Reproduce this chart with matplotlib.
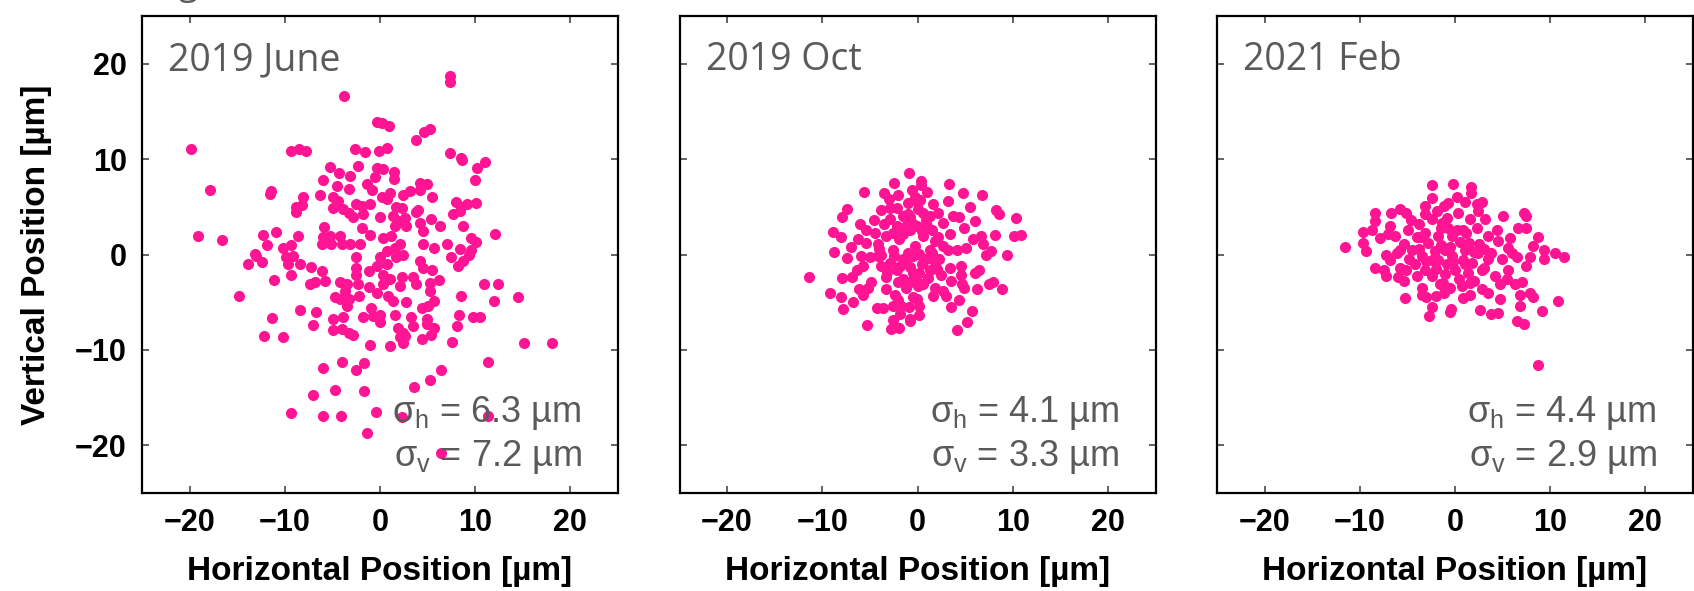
import matplotlib
matplotlib.use('Agg')
import matplotlib.pyplot as plt

# beam positions, in um
h_jun = [-3.8, -0.3, -19.9, -9.4, -8.5, -7.8, -2.6, -1.6, -5.3, -2.3, -4.3, -3.1, -6.0, -17.9, -11.4, -11.6,
         -4.5, -3.3, -6.3, -8.1, -8.8, -8.2, -8.8, -4.9, -4.9, -4.4, -3.9, -3.3, -2.8, -2.5, -1.9, -1.1,
         -1.8, -1.4, -0.8, -0.5, -0.3, -0.1, -5.9, -1.9, -1.1, -10.9, -12.3, -8.6, -19.1, -16.6, -11.9, -10.2,
         -9.3, -6.0, -5.3, -6.1, -5.1, -4.2, -4.0, -3.2, -2.1, -13.1,
         -13.9, -13.0, -12.4, -9.9, -9.1, -9.7, -8.4, -7.2, -9.3, -6.1, -7.4, -6.8, -5.8, -11.1, -14.8, -2.5,
         -2.5, -2.5, -2.3, -1.2, -1.2, -4.2, -3.5, -3.7, -4.7, -4.2, -3.3, -3.5, -2.2, -0.3, -0.3, -8.4,
         -6.7, -7.0, -11.3, -12.2, -10.2, -4.9, -4.9, -4.0, -3.3, -2.8, -3.9, -1.8, -0.9, -0.7, 0.0, -1.1,
         -6.0, -4.0, -1.7, -2.5, -7.0, -4.7, -1.7, -9.3, -6.0, -4.1, -0.4, -1.4,
         7.4, 7.4, 0.2, 0.95, 4.6, 5.2, 3.8, 0.7, 7.4, 8.5, 8.6, 11.0, 10.2, 10.0, 0.3, 1.5,
         1.5, 1.0, 0.2, 0.7, 2.4, 3.1, 4.2, 4.2, 4.9, 5.5, 1.7, 2.3, 3.8, 4.0, 0.0, 8.0,
         8.5, 9.1, 10.1, 7.7, 8.4, 1.4, 1.9, 2.6, 1.6, 2.7, 4.2, 4.5, 5.4, 6.3, 8.7, 12.1,
         9.6, 10.1, 7.0, 8.4, 9.6, 4.5, 5.7, 0.3, 1.2, 2.1, 1.6, 0.7,
         0.0, 0.7, 1.7, 2.4, 4.2, 4.5, 5.5, 7.5, 8.2, 8.7, 9.4, 0.3, 1.0, 2.3, 3.5, 3.8,
         5.2, 6.2, 0.3, 2.1, 5.2, 10.9, 12.4, 14.5, 8.5, 12.0, 0.85, 1.4, 2.7, 4.4, 5.0, 5.7,
         0.0, 1.6, 3.3, 4.9, 3.5, 5.7, 4.9, 8.3, 9.8, 10.5, 8.1, 1.9, 2.4, 2.1, 2.6, 1.0,
         2.4, 4.4, 5.4, 7.6, 15.1, 18.1, 11.3, 6.4, 5.2, 3.6, 2.3, 11.3, 6.4]
v_jun = [16.6, 13.9, 11.1, 10.9, 11.1, 10.9, 11.1, 10.7, 9.2, 9.3, 8.5, 8.2, 7.8, 6.8, 6.7, 6.3,
         7.2, 6.9, 6.2, 6.0, 5.0, 5.2, 4.5, 6.0, 4.9, 5.6, 4.8, 4.3, 3.9, 5.3, 5.1, 5.3,
         4.2, 7.4, 6.8, 8.1, 9.1, 10.9, 2.9, 2.8, 2.0, 2.4, 2.0, 1.9, 1.9, 1.5, 1.0, 0.7,
         1.0, 1.8, 1.9, 1.1, 1.1, 1.9, 1.1, 1.1, 1.1, 0.1,
         -1.0, -0.2, -0.8, -0.3, -0.2, -1.0, -1.0, -1.3, -2.1, -1.7, -3.1, -2.9, -2.8, -2.7, -4.4, -0.3,
         -1.4, -2.1, -3.1, -1.7, -3.4, -2.9, -3.1, -3.8, -4.5, -4.7, -4.7, -5.4, -4.3, -1.2, -4.0, -5.8,
         -6.0, -7.4, -6.7, -8.5, -8.7, -6.8, -7.9, -7.8, -8.2, -8.4, -6.6, -6.6, -5.6, -6.4, -7.1, -9.5,
         -11.9, -11.3, -11.4, -12.1, -14.7, -14.2, -14.3, -16.6, -16.9, -16.9, -16.5, -18.7,
         18.7, 18.1, 13.8, 13.5, 12.8, 13.2, 12.0, 11.2, 10.6, 10.1, 9.9, 9.7, 9.1, 7.8, 9.0, 8.7,
         7.9, 6.4, 6.0, 5.8, 6.2, 6.7, 6.8, 7.5, 7.4, 6.0, 5.0, 4.9, 4.5, 4.7, 3.9, 5.5,
         5.0, 5.3, 5.4, 4.2, 4.6, 4.0, 3.5, 3.8, 3.0, 3.0, 3.3, 2.5, 3.7, 3.0, 3.0, 2.2,
         1.7, 1.3, 1.1, 0.6, 0.5, 1.1, 0.7, 1.7, 1.9, 1.1, 0.7, 0.4,
         -0.3, -1.0, -0.3, 0.0, -0.7, -1.4, -1.6, -0.3, -1.2, -0.7, 0.0, -2.1, -2.6, -2.4, -2.4, -3.1,
         -3.0, -2.7, -3.1, -3.3, -3.8, -3.1, -3.1, -4.5, -4.3, -4.9, -4.3, -4.9, -5.0, -5.6, -5.4, -4.9,
         -6.3, -6.3, -6.5, -6.8, -7.5, -7.7, -7.3, -6.3, -6.5, -6.5, -7.5, -7.7, -8.2, -8.7, -8.5, -9.6,
         -9.3, -8.9, -8.4, -9.2, -9.3, -9.3, -11.3, -12.1, -13.2, -13.9, -17.0, -16.9, -20.8]

h_oct = [-0.9, -2.5, -3.5, -2.1, -0.6, -5.6, -7.4, -7.9, -3.8, -2.9, -2.2, -1.0, -0.1, -8.9, -8.0, -5.4,
         -4.5, -6.3, -7.0, -5.4, -4.2, -8.8, -7.4, -2.9, -2.2, -1.5, -3.3, -1.9, -0.8, -0.3, -2.6, -5.9,
         -5.0, -4.2, -6.4, -5.7, -2.9, -2.2, -1.2, -0.5, -3.3, -1.5, -11.4, -7.9, -4.9, -5.2, -6.1, -5.7,
         -9.2, -8.0, -7.8, -6.8, -3.3, -2.4, -3.6, -2.6, -1.7, -0.5, 0.0, -5.3, -2.6, -2.8, -1.9, -0.8,
         0.4, 0.4, 3.3, 4.8, 6.8, 0.3, 1.6, 3.2, 5.5, 8.2, 8.6, 10.3, 0.6, 1.3, 3.7, 4.4,
         6.0, 2.7, 4.9, -0.1, -0.8, 6.7, 8.1, 10.1, 10.9, 5.8, 0.6, 1.8, 3.4, 1.3, 2.7, 4.1,
         5.1, 6.9, 7.7, 7.2, 9.4, -0.5, 0.9, 2.3, 3.4, 4.6, 0.2, 1.3, 4.6, 6.0, 6.5, -0.8,
         0.6, 1.8, 2.7, 3.5, 4.7, 4.9, 6.2, 7.5, 7.9, 8.9, -0.1, 0.2, 1.6, 3.0, 4.4, 5.7,
         -0.8, 0.2, 5.2, 4.1,
         -1.5, -0.5, 0.5, 1.5, -2.5, -1.0, 0.2, 1.8, -1.8, -0.8, 2.2, -3.8, -4.0, -1.2, 1.1, 2.5,
         -2.0, 0.9, -1.2, -3.5,
         -1.0, 0.0, 1.0, -2.6, -3.8, -1.5, 0.5, 1.5, -0.2, -1.0, -2.0, -0.9, -3.2, 2.0, 3.2, -4.6,
         -0.3, 1.0, 2.2, -3.0, -6.0, -6.9, -4.3, -1.8, 3.5]
v_oct = [8.5, 7.5, 6.4, 6.2, 6.8, 6.5, 4.8, 3.9, 4.7, 4.9, 4.9, 5.4, 5.6, 2.4, 1.8, 2.6,
         2.3, 1.6, 0.8, 1.2, 1.1, 0.3, -0.4, 3.7, 3.0, 4.0, 1.9, 1.6, 2.6, 0.9, 0.5, -0.2,
         -0.3, -0.2, -1.6, -1.2, -0.9, -1.6, -0.5, -1.9, -2.4, -2.6, -2.4, -2.5, -2.9, -3.5, -3.6, -4.2,
         -4.0, -4.5, -5.7, -5.0, -3.6, -4.2, -5.6, -5.4, -5.4, -4.5, -3.3, -7.4, -6.9, -7.8, -7.7, -7.0,
         7.7, 7.3, 7.4, 6.4, 6.2, 5.7, 5.3, 5.6, 5.0, 4.7, 4.2, 3.8, 4.4, 4.0, 4.0, 3.9,
         3.5, 3.3, 2.8, 3.0, 3.9, 1.9, 2.0, 1.9, 2.0, 1.6, 1.9, 1.4, 2.1, 0.5, 0.9, 0.5,
         0.7, 1.1, 0.4, 0.0, 0.0, -0.2, -0.5, -0.5, -1.4, -1.2, -1.9, -1.6, -2.1, -1.9, -1.6, -2.9,
         -3.1, -3.5, -3.8, -2.8, -3.1, -3.5, -3.6, -3.1, -2.9, -3.6, -4.7, -5.4, -4.4, -4.4, -4.8, -5.9,
         -6.8, -6.3, -7.1, -7.9,
         2.2, 3.2, 2.5, 2.6, -0.2, 0.2, 0.1, -0.8, -1.2, -1.3, 1.8, -1.2, 0.6, -3.5, -2.5, -2.2,
         -2.9, 3.6, 3.0, 3.2,
         4.2, 4.8, 3.0, 2.3, 0.0, -0.5, -1.0, 0.2, -2.5, -3.0, -4.8, -5.5, -1.8, -1.5, 0.5, 3.6,
         6.0, 6.5, 4.4, 5.8, 3.2, -2.4, -5.6, -6.2, -5.5]

h_feb = [-2.4, -0.2, -2.4, -8.4, -8.4, -6.7, -5.8, -5.1, -3.1, -1.2, -0.7, -9.7, -8.7, -7.9, -9.7, -9.3,
         -11.6, -6.8, -6.3, -4.9, -3.8, -3.1, -2.4, -1.4, -0.7, -1.8, -0.3, -7.2, -6.1, -5.4, -4.5, -3.5,
         -2.1, -1.0, -8.4, -7.5, -7.3, -5.8, -5.1, -4.2, -5.4, -4.0, -3.1, -2.4, -1.6, -0.5, -3.5, -5.2,
         -3.5, -3.0, -2.4, -2.7, -0.4,
         1.7, 1.7, 1.0, 2.3, 2.8, 0.3, 1.6, 2.4, 3.1, 5.0, 7.3, 7.5, 6.6, 7.5, 8.7, 3.5,
         4.4, 5.8, 4.5, 5.6, 8.2, 9.4, 10.5, 11.4, 9.4, 7.9, 7.5, 6.5, -0.3, 1.0, 2.4, 3.5,
         4.9, 5.6, 0.0, 1.4, 2.8, 4.2, 0.7, 1.6, 3.5, 4.7, 6.3, 7.0, 6.8, 7.9, 8.2, 4.7,
         6.8, 10.8, 9.1, 2.6, 3.8, 4.5, 6.5, 7.2, 8.7,
         -2.8, -1.5, -0.5, 0.5, 1.5, 2.5, -3.0, -1.8, -0.8, 0.8, 1.8, -2.0, -1.0, 0.4, 2.0, -1.2,
         0.2, 1.2, 2.3, -0.8, -4.0, 3.0,
         -6.8, -5.8, -4.8, -3.8, -3.6, -2.4, -1.5, -0.2, 1.0, 2.0, 3.0, -1.3, -2.0, 0.8, 2.8, -4.6,
         -3.2, -1.9, 0.8, 3.8, 5.5, 6.0, -7.0, -6.0, 1.6, -0.5, 0.2]
v_feb = [7.3, 7.4, 5.9, 4.4, 3.5, 4.4, 4.8, 4.4, 5.1, 5.1, 5.4, 2.4, 2.6, 1.7, 1.2, 0.4,
         0.8, 3.0, 1.9, 2.6, 3.2, 2.3, 3.7, 3.3, 2.8, 1.9, 1.9, 0.0, 0.2, 1.1, 0.5, -0.2,
         0.4, 0.5, -1.4, -1.6, -2.3, -1.4, -1.6, -1.0, -2.8, -2.3, -1.6, -2.3, -3.1, -3.5, -3.5, -4.6,
         -4.2, -4.5, -5.5, -6.4, -5.7,
         7.1, 6.4, 5.5, 5.3, 5.5, 4.4, 3.7, 4.6, 3.7, 4.0, 4.4, 4.0, 2.8, 2.8, 1.8, 1.9,
         2.6, 1.7, 1.4, 0.7, 0.9, 0.5, 0.2, -0.3, -0.5, -0.3, -1.2, -0.3, -0.2, 0.5, 0.2, -0.5,
         -0.5, -1.6, -1.6, -1.9, -1.6, -2.3, -3.3, -4.2, -4.0, -3.1, -3.1, -2.9, -4.2, -4.0, -4.5, -4.7,
         -5.4, -4.9, -5.9, -5.8, -6.2, -6.1, -7.0, -7.3, -11.6,
         1.2, 1.0, 0.8, 1.3, 1.2, 1.1, -0.7, -0.6, -1.0, -0.6, -0.9, -1.5, -2.0, -2.6, -2.8, -4.0,
         2.6, 2.3, 2.8, 3.8, 1.8, -1.4,
         -0.6, 0.5, -0.5, 0.6, 1.8, -0.6, 2.8, -0.8, -1.0, 0.3, 0.6, -3.0, -4.4, -4.6, -3.6, 3.6,
         4.2, 4.6, 2.6, 0.2, -2.6, 0.2, 2.2, -2.4, -3.0, -6.0, 6.0]

dates = ['2019 June', '2019 Oct', '2021 Feb']
sig_h = [6.3, 4.1, 4.4]
sig_v = [7.2, 3.3, 2.9]
ticks = [-20, -10, 0, 10, 20]

plt.rcParams['mathtext.fontset'] = 'custom'
plt.rcParams['mathtext.rm'] = 'Liberation Sans'
plt.rcParams['mathtext.it'] = 'Liberation Sans'
plt.rcParams['axes.unicode_minus'] = True

fig = plt.figure(figsize=(16.94, 5.91), dpi=100)
lefts = [142, 679.5, 1217]
grey = '#5a5a5a'
pink = '#ff1493'
data = [(h_jun, v_jun), (h_oct, v_oct), (h_feb, v_feb)]

for i in range(3):
    ax = fig.add_axes([lefts[i] / 1694, 98 / 591, 476 / 1694, 477 / 591])
    h, v = data[i]
    ax.scatter(h, v, s=64, color=pink, linewidths=0, zorder=2)
    ax.set_xlim(-25, 25)
    ax.set_ylim(-25, 25)
    ax.set_xticks(ticks)
    ax.set_yticks(ticks)
    ax.tick_params(direction='in', length=5, width=1.3, color='#555555', top=True, right=True,
                   labelsize=22, pad=11)
    for lab in ax.get_xticklabels() + ax.get_yticklabels():
        lab.set_fontfamily('Liberation Sans')
        lab.set_fontweight('bold')
    for sp in ax.spines.values():
        sp.set_linewidth(1.6)
    if i > 0:
        ax.tick_params(labelleft=False)
    else:
        ax.set_ylabel('Vertical Position [µm]', fontsize=24, fontweight='bold', family='Liberation Sans')
        ax.yaxis.set_label_coords(-0.19, 0.5)
    ax.set_xlabel('Horizontal Position [µm]', fontsize=24, fontweight='bold', family='Liberation Sans')
    ax.xaxis.set_label_coords(0.5, -0.133)

    ax.text(0.055, 0.887, dates[i], transform=ax.transAxes, fontsize=27, color=grey,
            family='Open Sans', va='baseline', ha='left', zorder=3)
    ax.text(0.924, 0.1495, r'$\sigma_\mathrm{h}$ = %.1f µm' % sig_h[i], transform=ax.transAxes,
            fontsize=26, color=grey, family='Liberation Sans', ha='right', va='baseline', zorder=3)
    ax.text(0.924, 0.057, r'$\sigma_\mathrm{v}$ = %.1f µm' % sig_v[i], transform=ax.transAxes,
            fontsize=26, color=grey, family='Liberation Sans', ha='right', va='baseline', zorder=3)

# the tail of a cut-off heading above the first panel
fig.text(188 / 1694, 1.009, 'g', fontsize=25, color=grey, family='Open Sans', ha='center', va='baseline')

fig.savefig('out.png', dpi=100)
